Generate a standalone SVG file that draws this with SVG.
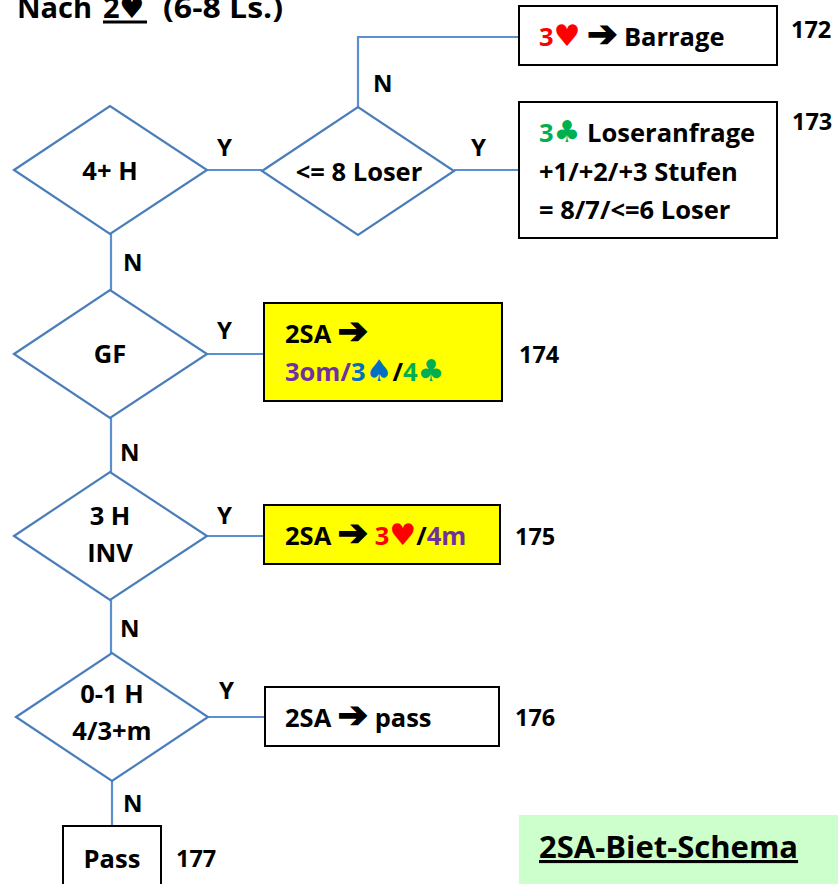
<svg xmlns="http://www.w3.org/2000/svg" width="838" height="884" viewBox="0 0 838 884">
  <style>
    text { font-family: "Open Sans", Lato, "DejaVu Sans", sans-serif; font-weight: bold; fill: #000; }
    .t { font-size: 25.5px; }
    .lbl { font-size: 24px; }
    .num { font-size: 23.5px; }
    .sym { font-family: "DejaVu Sans", sans-serif; font-size: 30px; }
    .arr { font-family: "DejaVu Sans", sans-serif; font-size: 36px; stroke: #000; stroke-width: 1.6; }
    .dia { fill: #fff; stroke: #4a7ebb; stroke-width: 2.2; }
    .box { fill: #fff; stroke: #000; stroke-width: 2; }
    .yel { fill: #ffff00; stroke: #000; stroke-width: 2; }
    .con { fill: none; stroke: #5b8fcf; stroke-width: 2.2; }
    .red { fill: #ff0000; }
    .grn { fill: #00b050; }
    .pur { fill: #7030a0; }
    .blu { fill: #0070c0; }
  </style>

  <!-- title -->
  <g id="title">
    <text x="17" y="18" style="font-size:29px">Nach</text>
    <text x="103" y="18" style="font-size:29px">2<tspan class="sym" style="font-size:28px">♥</tspan></text>
    <line x1="103" y1="22" x2="147" y2="22" stroke="#000" stroke-width="3"/>
    <text x="163" y="18" style="font-size:29px" textLength="120" lengthAdjust="spacingAndGlyphs">(6-8 Ls.)</text>
  </g>

  <!-- connectors -->
  <g id="connectors">
    <polyline class="con" points="358,107 358,37 519,37"/>
    <line class="con" x1="207" y1="170" x2="262" y2="170"/>
    <line class="con" x1="454" y1="170" x2="519" y2="170"/>
    <line class="con" x1="111" y1="234" x2="111" y2="290"/>
    <line class="con" x1="207" y1="354" x2="264" y2="354"/>
    <line class="con" x1="111" y1="418" x2="111" y2="472"/>
    <line class="con" x1="207" y1="536" x2="264" y2="536"/>
    <line class="con" x1="111" y1="600" x2="111" y2="653"/>
    <line class="con" x1="208" y1="717" x2="265" y2="717"/>
    <line class="con" x1="112" y1="781" x2="112" y2="826"/>
    <text class="lbl" x="373" y="92">N</text>
    <text class="lbl" x="217" y="156">Y</text>
    <text class="lbl" x="471" y="156">Y</text>
    <text class="lbl" x="123" y="271">N</text>
    <text class="lbl" x="217" y="339">Y</text>
    <text class="lbl" x="120" y="461">N</text>
    <text class="lbl" x="217" y="524">Y</text>
    <text class="lbl" x="120" y="637">N</text>
    <text class="lbl" x="219" y="699">Y</text>
    <text class="lbl" x="123" y="812">N</text>
  </g>

  <!-- decisions -->
  <g id="d-4h">
    <polygon class="dia" points="14,170 110,106 207,170 110,234"/>
    <text class="t" x="110" y="180" text-anchor="middle">4+ H</text>
  </g>
  <g id="d-loser">
    <polygon class="dia" points="262,171 358,107 454,171 358,235"/>
    <text class="t" x="359" y="181" text-anchor="middle">&lt;= 8 Loser</text>
  </g>
  <g id="d-gf">
    <polygon class="dia" points="14,354 110,290 207,354 110,418"/>
    <text class="t" x="110" y="363" text-anchor="middle">GF</text>
  </g>
  <g id="d-3h">
    <polygon class="dia" points="14,536 110,472 207,536 110,600"/>
    <text class="t" x="110" y="525" text-anchor="middle">3 H</text>
    <text class="t" x="110" y="562" text-anchor="middle">INV</text>
  </g>
  <g id="d-01h">
    <polygon class="dia" points="16,717 112,653 208,717 112,781"/>
    <text class="t" x="112" y="703" text-anchor="middle">0-1 H</text>
    <text class="t" x="112" y="740" text-anchor="middle">4/3+m</text>
  </g>

  <!-- outcomes -->
  <g id="n172">
    <rect class="box" x="519" y="6" width="258" height="59"/>
    <text class="t" x="539" y="46"><tspan class="red">3</tspan><tspan class="red sym">♥</tspan> <tspan class="arr">➔</tspan> Barrage</text>
    <text class="num" x="791" y="38">172</text>
  </g>
  <g id="n173">
    <rect class="box" x="519" y="102" width="258" height="136"/>
    <text class="t" x="539" y="142"><tspan class="grn">3</tspan><tspan class="grn sym">♣</tspan> Loseranfrage</text>
    <text class="t" x="539" y="181">+1/+2/+3 Stufen</text>
    <text class="t" x="539" y="219">= 8/7/&lt;=6 Loser</text>
    <text class="num" x="792" y="130">173</text>
  </g>
  <g id="n174">
    <rect class="yel" x="264" y="303" width="238" height="98"/>
    <text class="t" x="285" y="343">2SA <tspan class="arr">➔</tspan></text>
    <text class="t" x="285" y="381"><tspan class="pur">3om/</tspan><tspan class="blu">3</tspan><tspan class="blu sym">♠</tspan>/<tspan class="grn">4</tspan><tspan class="grn sym">♣</tspan></text>
    <text class="num" x="519" y="363">174</text>
  </g>
  <g id="n175">
    <rect class="yel" x="264" y="505" width="236" height="59"/>
    <text class="t" x="285" y="545">2SA <tspan class="arr">➔</tspan> <tspan class="red">3</tspan><tspan class="red sym">♥</tspan>/<tspan class="pur">4m</tspan></text>
    <text class="num" x="515" y="545">175</text>
  </g>
  <g id="n176">
    <rect class="box" x="265" y="687" width="234" height="59"/>
    <text class="t" x="285" y="727">2SA <tspan class="arr">➔</tspan> pass</text>
    <text class="num" x="515" y="726">176</text>
  </g>
  <g id="n177">
    <rect class="box" x="63" y="826" width="98" height="70"/>
    <text class="t" x="112" y="868" text-anchor="middle">Pass</text>
    <text class="num" x="176" y="867">177</text>
  </g>

  <!-- caption -->
  <g id="caption">
    <rect x="519" y="815" width="319" height="69" fill="#ccffcc"/>
    <text x="539" y="858" style="font-size:31px" text-decoration="underline">2SA-Biet-Schema</text>
  </g>
</svg>
